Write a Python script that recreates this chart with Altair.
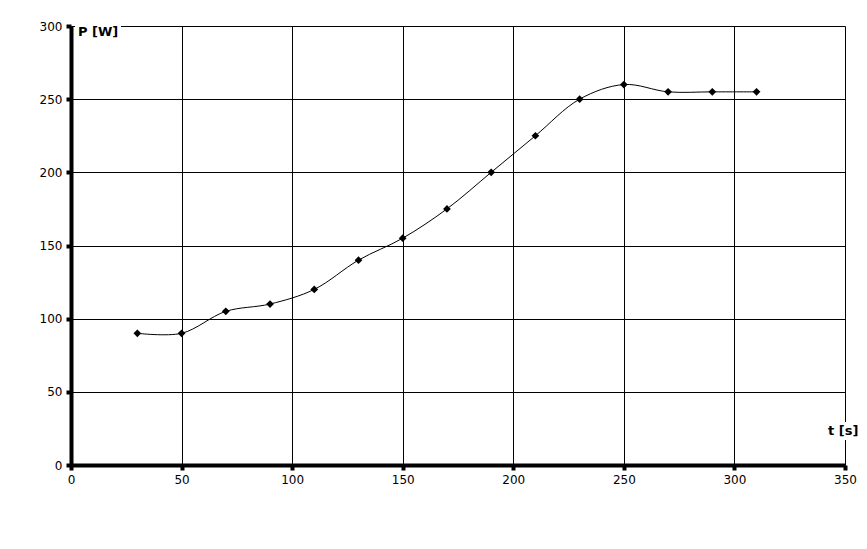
import altair as alt
import pandas as pd

t_values = [30, 50, 70, 90, 110, 130, 150, 170, 190, 210, 230, 250, 270, 290, 310]
p_values = [90, 90, 105, 110, 120, 140, 155, 175, 200, 225, 250, 260, 255, 255, 255]

df = pd.DataFrame({"t": t_values, "P": p_values})

W, H = 774, 439

xs = alt.Scale(domain=[0, 350], nice=False)
ys = alt.Scale(domain=[0, 300], nice=False)

common = dict(title=None, grid=True, gridColor="black", gridWidth=1, gridOpacity=1,
              domainColor="black", domainWidth=4, tickColor="black", tickWidth=4, tickSize=5,
              labelFont="DejaVu Sans", labelFontSize=12, labelColor="black", labelPadding=4,
              labelFlush=False, labelOverlap=False)
xaxis = alt.Axis(values=list(range(0, 351, 50)), **common)
yaxis = alt.Axis(values=list(range(0, 301, 50)), **common)

base = alt.Chart(df)

line = base.mark_line(color="black", strokeWidth=1, interpolate="catmull-rom").encode(
    x=alt.X("t:Q", scale=xs, axis=xaxis),
    y=alt.Y("P:Q", scale=ys, axis=yaxis),
)

pts = base.mark_point(shape="diamond", filled=True, color="black", size=60, opacity=1).encode(
    x=alt.X("t:Q", scale=xs),
    y=alt.Y("P:Q", scale=ys),
)

lbl = pd.DataFrame({"k": [0]})
bg1 = alt.Chart(lbl).mark_rect(color="white").encode(
    x=alt.value(4), x2=alt.value(50), y=alt.value(-2), y2=alt.value(12))
txt1 = alt.Chart(lbl).mark_text(text="P [W]", font="DejaVu Sans", fontWeight="bold", fontSize=13,
                                align="left", baseline="middle", color="black").encode(
    x=alt.value(7), y=alt.value(6))
bg2 = alt.Chart(lbl).mark_rect(color="white").encode(
    x=alt.value(W - 18), x2=alt.value(W + 14), y=alt.value(H - 43), y2=alt.value(H - 25))
txt2 = alt.Chart(lbl).mark_text(text="t [s]", font="DejaVu Sans", fontWeight="bold", fontSize=13,
                                align="left", baseline="middle", color="black").encode(
    x=alt.value(W - 17), y=alt.value(H - 34))

chart = alt.layer(line, pts, bg1, txt1, bg2, txt2).properties(
    width=W, height=H,
    padding={"left": 63, "top": 18, "right": 14, "bottom": 60},
    autosize=alt.AutoSizeParams(type="none"),
    background="white",
).configure_view(stroke=None)

chart.save("out.html", embed_options={"renderer": "svg", "actions": False})
